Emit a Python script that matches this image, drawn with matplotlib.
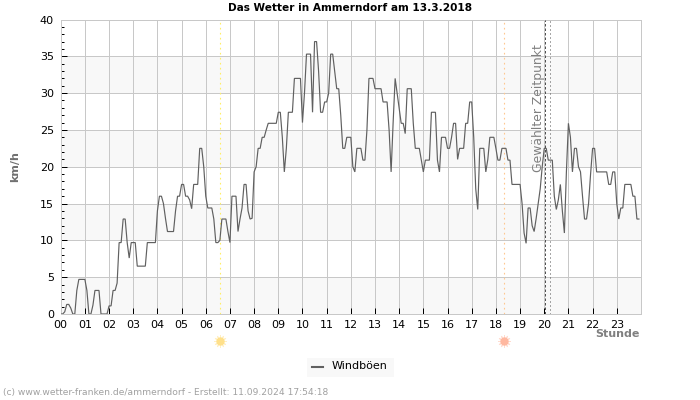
import numpy as np
import matplotlib
matplotlib.use("Agg")
import matplotlib.pyplot as plt
from matplotlib.patches import Rectangle
from matplotlib.ticker import MultipleLocator

W, H = 700, 400
L, R, T, B = 60.7, 640.7, 19.5, 314.0

h00 = [0,0,0.3,1.3,1.3,0.8,0,0,3.2,4.7,4.7,4.7]
h01 = [4.7,3.2,0,0,1.2,3.2,3.2,3.2,0,0,0,0]
h02 = [1.1,1.1,3.2,3.2,4.2,9.7,9.7,12.9,12.9,9.7,7.6,9.7]
h03 = [9.7,9.7,6.5,6.5,6.5,6.5,6.5,9.7,9.7,9.7,9.7,9.7]
h04 = [14,16,16,15,13,11.2,11.2,11.2,11.2,14,16,16]
h05 = [17.6,17.6,16,16,15.5,14.3,17.6,17.6,17.6,22.5,22.5,20]
h06 = [16,14.4,14.4,14.4,12.9,9.7,9.7,10,12.9,12.9,12.9,11.2]
h07 = [9.7,16,16,16,11.2,12.9,14.4,17.6,17.6,14,12.9,13]
h08 = [19.3,20,22.5,22.5,24,24,25,25.9,25.9,25.9,25.9,25.9]
h09 = [27.4,27.4,24,19.3,22.5,27.4,27.4,27.4,32,32,32,32]
h10 = [26,30,35.3,35.3,35.3,27.4,37,37,33,27.4,27.4,28.8]
h11 = [28.8,30,35.3,35.3,33,30.6,30.6,27,22.5,22.5,24,24]
h12 = [24,20,19.3,22.5,22.5,22.5,20.9,20.9,25,32,32,32]
h13 = [30.6,30.6,30.6,30.6,28.8,28.8,28.8,25,19.3,26,32,30]
h14 = [28,25.9,25.9,24.5,30.6,30.6,30.6,25.9,22.5,22.5,22.5,20.9]
h15 = [19.3,20.9,20.9,20.9,27.4,27.4,27.4,20.9,19.3,24,24,24]
h16 = [22.5,22.5,24,25.9,25.9,21,22.5,22.5,22.5,25.9,25.9,28.8]
h17 = [28.8,24,17,14.2,22.5,22.5,22.5,19.3,21,24,24,24]
h18 = [22.5,20.9,20.9,22.5,22.5,22.5,20.9,20.9,17.6,17.6,17.6,17.6]
h19 = [17.6,15,11,9.6,14.4,14.4,12,11.2,13,15,17,20]
h20 = [22.5,22.5,20.9,20.9,20.9,16,14.2,15.5,17.6,14,11,19.3]
h21 = [25.9,24,19.3,22.5,22.5,20,19.3,16,12.9,12.9,15,19]
h22 = [22.5,22.5,19.3,19.3,19.3,19.3,19.3,19.3,17.6,17.6,19.3,19.3]
h23 = [15,12.9,14.4,14.4,17.6,17.6,17.6,17.6,16,16,12.9,12.9]
wind_gusts = h00+h01+h02+h03+h04+h05+h06+h07+h08+h09+h10+h11+h12+h13+h14+h15+h16+h17+h18+h19+h20+h21+h22+h23
hour_labels = [f"{i:02d}" for i in range(24)]
sunrise_hour = 6.6
sunset_hour = 18.35
selected_hour = 20.03
selected_hour_2 = 20.25

fig = plt.figure(figsize=(W/100, H/100), dpi=100, facecolor="white")
ax = fig.add_axes([L/W, 1-B/H, (R-L)/W, (B-T)/H])
t = np.arange(len(wind_gusts))/12.0
ax.set_xlim(0, t[-1]+1/12-0.01)
ax.set_ylim(0, 40)

for lo in (0, 10, 20, 30):
    ax.axhspan(lo, lo+5, color="#f8f8f8", lw=0, zorder=0)
ax.grid(True, which="major", color="#c8c8c8", lw=0.72, zorder=1)
ax.set_axisbelow(True)
for s in ax.spines.values():
    s.set_color("#c8c8c8"); s.set_linewidth(0.72)

ax.set_xticks(range(24))
ax.set_xticklabels(hour_labels)
ax.yaxis.set_major_locator(MultipleLocator(5))
ax.yaxis.set_minor_locator(MultipleLocator(1))
ax.tick_params(axis="both", which="major", direction="in", length=4, width=0.72, color="black", labelsize=8, top=False, right=False)
ax.tick_params(axis="y", which="minor", direction="in", length=2.2, width=0.72, color="black")
ax.tick_params(axis="y", pad=5)
ax.tick_params(axis="x", pad=4)

ax.plot(t, wind_gusts, color="#606060", lw=0.85, zorder=3, solid_joinstyle="miter", label="Windböen")

ax.axvline(sunrise_hour, color="#ffee66", lw=0.8, ls=(0, (1.5, 3)), zorder=2, ymax=0.995)
ax.axvline(sunset_hour, color="#ffc890", lw=0.8, ls=(0, (1.5, 3)), zorder=2, ymax=0.995)
ax.axvline(selected_hour, color="#505050", lw=0.72, ls=(0, (2.5, 2)), zorder=4)
ax.axvline(selected_hour_2, color="#505050", lw=0.72, ls=(0, (1, 3)), zorder=4)
ax.text(19.76, 36.6, "Gewählter Zeitpunkt", rotation=90, ha="center", va="top", fontsize=8.9, color="#808080", zorder=5)

# sun symbols below the axis
sun_y = 341
for hour, col, ray in ((sunrise_hour, "#ffe08a", "#fff0c4"), (sunset_hour, "#ffb8a0", "#ffdccf")):
    x = ax.get_xaxis_transform().transform((hour, 0))[0]
    fig.add_artist(plt.Line2D([x/W], [1-sun_y/H], marker=(12, 2, 0), ms=9, mec=ray, mew=0.7, ls="", transform=fig.transFigure))
    fig.add_artist(plt.Line2D([x/W], [1-sun_y/H], marker="o", ms=5, mfc=col, mec=col, ls="", transform=fig.transFigure))

fig.text(350/W, 1-8/H, "Das Wetter in Ammerndorf am 13.3.2018", ha="center", va="center", fontsize=7.6, fontweight="bold", color="black")
fig.text(15.5/W, 1-167/H, "km/h", rotation=90, ha="center", va="center", fontsize=8, fontweight="bold", color="#707070")
fig.text(639.5/W, 1-334/H, "Stunde", ha="right", va="center", fontsize=8, fontweight="bold", color="#808080")

fig.patches.append(Rectangle((307/W, 1-377/H), 87/W, 19/H, transform=fig.transFigure, facecolor="#f8f8f8", edgecolor="none", figure=fig))
fig.add_artist(plt.Line2D([312/W, 323/W], [1-367/H]*2, color="#606060", lw=1.5, transform=fig.transFigure))
fig.text(332/W, 1-366/H, "Windböen", ha="left", va="center", fontsize=8, color="black")
fig.text(3/W, 1-393/H, "(c) www.wetter-franken.de/ammerndorf - Erstellt: 11.09.2024 17:54:18", ha="left", va="center", fontsize=6.6, color="#a0a0a0")

fig.savefig("out.png", dpi=100)
